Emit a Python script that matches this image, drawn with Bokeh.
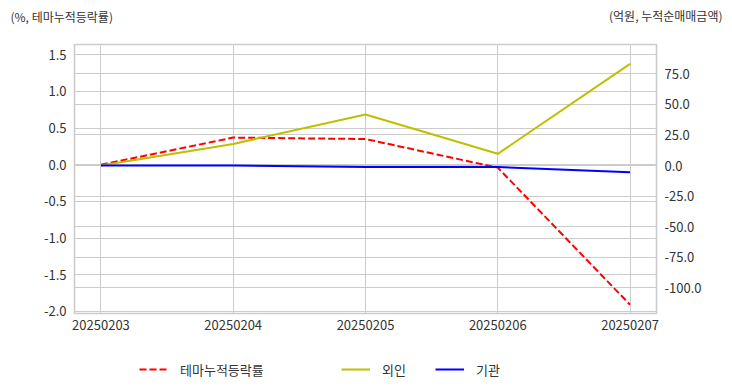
from bokeh.plotting import figure
from bokeh.layouts import column
from bokeh.models import (Range1d, LinearAxis, FixedTicker, Grid, Legend, LegendItem,
                          Label, NumeralTickFormatter, ColumnDataSource)
from bokeh.embed import file_html
from bokeh.resources import INLINE

# ---- data ----
dates = ["20250203", "20250204", "20250205", "20250206", "20250207"]
theme_return = [0.0, 0.37, 0.35, -0.04, -1.91]      # %, left axis
foreign_net = [0.0, 17.7, 41.7, 9.6, 83.2]          # 억원, right axis
inst_net = [0.0, 0.0, -1.2, -1.2, -5.5]             # 억원, right axis
left_ticks = [-2.0, -1.5, -1.0, -0.5, 0.0, 0.5, 1.0, 1.5]
right_ticks = [-100, -75, -50, -25, 0, 25, 50, 75]
series_names = ["테마누적등락률", "외인", "기관"]

FONT = "Noto Sans CJK KR"
TXT = "#333333"
GRID = "#cccccc"
RED, YEL, BLU = "#ff0000", "#bfbf00", "#0000ff"

xs = list(range(len(dates)))
src = ColumnDataSource(dict(x=xs, theme=theme_return, foreign=foreign_net, inst=inst_net))

p = figure(width=732, height=340, output_backend="svg", toolbar_location=None,
           x_range=Range1d(-0.2, 4.2), y_range=Range1d(-2.03, 1.64),
           min_border_left=74, min_border_right=76, min_border_top=44, min_border_bottom=27)
p.extra_y_ranges = {"right": Range1d(-121, 99)}

p.outline_line_color = GRID
p.outline_line_width = 1.6
p.background_fill_color = "white"
p.border_fill_color = "white"

# x axis
p.xaxis.ticker = FixedTicker(ticks=xs)
p.xaxis.major_label_overrides = {i: d for i, d in enumerate(dates)}
# left axis
p.yaxis.ticker = FixedTicker(ticks=left_ticks)
p.yaxis.formatter = NumeralTickFormatter(format="0.0")
# right axis
ra = LinearAxis(y_range_name="right", ticker=FixedTicker(ticks=right_ticks),
                formatter=NumeralTickFormatter(format="0.0"))
p.add_layout(ra, "right")

for ax in [p.xaxis[0], p.yaxis[0], ra]:
    ax.axis_line_color = None
    ax.major_tick_line_color = None
    ax.minor_tick_line_color = None
    ax.major_label_text_font = FONT
    ax.major_label_text_font_size = "13px"
    ax.major_label_text_color = TXT
    ax.major_label_standoff = 2
p.xaxis.major_label_standoff = 0

p.xgrid.grid_line_color = GRID
p.xgrid.grid_line_width = 1
p.ygrid.grid_line_color = GRID
p.ygrid.grid_line_width = 1
rgrid = Grid(dimension=1, ticker=ra.ticker, y_range_name="right",
             grid_line_color=GRID, grid_line_width=1)
p.add_layout(rgrid)

p.line("x", "theme", source=src, line_color=RED, line_width=2, line_dash="7 3")
p.line("x", "foreign", source=src, line_color=YEL, line_width=2, y_range_name="right")
p.line("x", "inst", source=src, line_color=BLU, line_width=2, y_range_name="right")

# axis titles in the top side panels (screen units relative to each panel)
p.add_layout(Label(x=-64, y=28, x_units="screen", y_units="screen", text="(%, 테마누적등락률)",
                   text_font=FONT, text_font_size="12px", text_color=TXT,
                   text_align="left", text_baseline="middle"), "above")
p.add_layout(Label(x=648, y=12, x_units="screen", y_units="screen", text="(억원, 누적순매매금액)",
                   text_font=FONT, text_font_size="12px", text_color=TXT,
                   text_align="right", text_baseline="middle"), "above")

# ---- legend strip below the chart (its frame is aligned with the chart frame) ----
lg = figure(width=732, height=52, output_backend="svg", toolbar_location=None,
            x_axis_location=None, y_axis_location=None,
            min_border_left=0, min_border_right=0, min_border_top=0, min_border_bottom=0,
            x_range=Range1d(-0.2, 4.2), y_range=Range1d(1000, 1001))
lg.outline_line_color = None
lg.xgrid.visible = False
lg.ygrid.visible = False
lg.border_fill_color = "white"
lg.background_fill_color = "white"

# same series, kept outside this strip's visible range: they only feed the legend swatches
k_red = lg.line("x", "theme", source=src, line_color=RED, line_width=2, line_dash="7 3")
k_yel = lg.line("x", "foreign", source=src, line_color=YEL, line_width=2)
k_blu = lg.line("x", "inst", source=src, line_color=BLU, line_width=2)

for name, r, xloc in zip(series_names, [k_red, k_yel, k_blu], [65, 267, 361]):
    leg = Legend(items=[LegendItem(label=name, renderers=[r])], location=(xloc, 13),
                 orientation="horizontal", padding=0, margin=0, spacing=0,
                 glyph_width=29, glyph_height=20, label_height=20, label_standoff=12,
                 label_text_font=FONT, label_text_font_size="13px", label_text_color=TXT,
                 border_line_color=None, background_fill_alpha=0)
    lg.add_layout(leg, "center")

layout = column(p, lg, spacing=0)
open("out.html", "w").write(file_html(layout, INLINE))
